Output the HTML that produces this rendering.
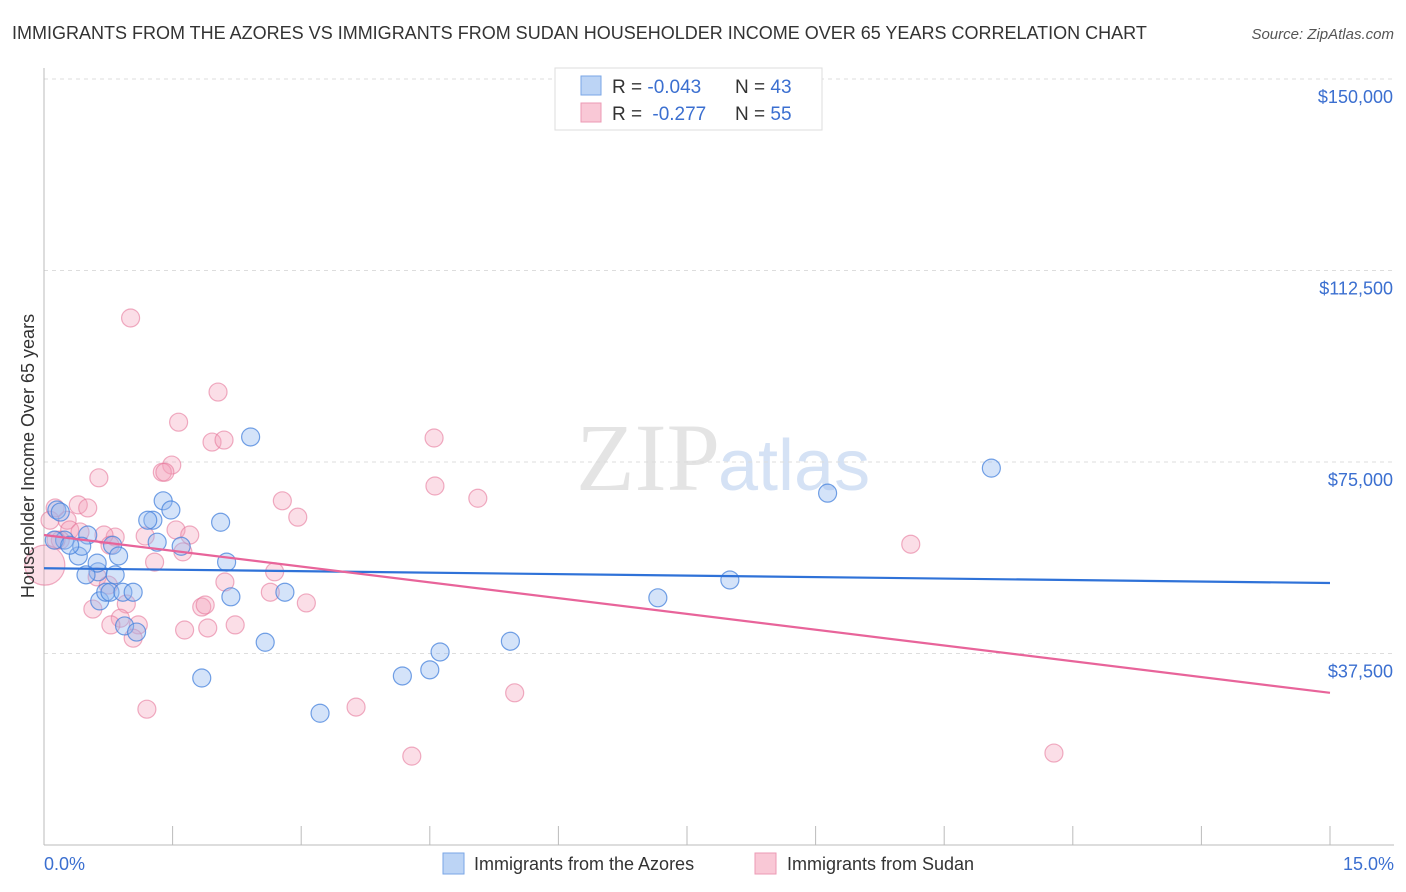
<!DOCTYPE html>
<html><head><meta charset="utf-8"><style>
body{margin:0;background:#fff;font-family:"Liberation Sans",sans-serif;}
svg{display:block}
</style></head><body>
<svg id="c" width="1406" height="892" xmlns="http://www.w3.org/2000/svg">
<text x="12" y="39" font-size="18" fill="#333">IMMIGRANTS FROM THE AZORES VS IMMIGRANTS FROM SUDAN HOUSEHOLDER INCOME OVER 65 YEARS CORRELATION CHART</text>
<text x="1394" y="39" font-size="15" fill="#555" font-style="italic" text-anchor="end">Source: ZipAtlas.com</text>
<text x="720" y="490" font-size="96" fill="#e4e4e4" text-anchor="end" font-family="Liberation Serif,serif">ZIP</text>
<text x="718" y="490" font-size="72" fill="#d5e2f5">atlas</text>
<g id="grid"></g>
<g id="axes"></g>
<g id="pts"></g>
<g id="trend"></g>
<text transform="translate(34,456) rotate(-90)" font-size="18" fill="#333" text-anchor="middle">Householder Income Over 65 years</text>
<text x="44" y="870" font-size="18" fill="#3b6fd0">0.0%</text>
<text x="1394" y="870" font-size="18" fill="#3b6fd0" text-anchor="end">15.0%</text>
<g>
<rect x="555" y="68" width="267" height="62" fill="#fff" stroke="#ddd"/>
<rect x="581" y="76" width="20" height="19" fill="#bcd4f5" stroke="#7aa6e6"/>
<rect x="581" y="103" width="20" height="19" fill="#f9c8d6" stroke="#ec9ab4"/>
<text x="612" y="93" font-size="19" fill="#333">R = <tspan fill="#3b6fd0">-0.043</tspan></text>
<text x="735" y="93" font-size="19" fill="#333">N = <tspan fill="#3b6fd0">43</tspan></text>
<text x="612" y="120" font-size="19" fill="#333">R = <tspan fill="#3b6fd0" dx="5">-0.277</tspan></text>
<text x="735" y="120" font-size="19" fill="#333">N = <tspan fill="#3b6fd0">55</tspan></text>
</g>
<g>
<rect x="443" y="853" width="21" height="21" fill="#bcd4f5" stroke="#7aa6e6"/>
<text x="474" y="870" font-size="18" fill="#333">Immigrants from the Azores</text>
<rect x="755" y="853" width="21" height="21" fill="#f9c8d6" stroke="#ec9ab4"/>
<text x="787" y="870" font-size="18" fill="#333">Immigrants from Sudan</text>
</g>
</svg>
<script>
const yTicks=[37500,75000,112500,150000];
const yTickLabels=["$37,500","$75,000","$112,500","$150,000"];
const azoresX=[.15,.19,.24,.63,.51,.80,.62,.40,.44,.49,.83,.65,.72,.77,.92,1.04,.94,1.08,.87,1.27,1.21,1.39,1.48,1.32,1.60,2.06,2.13,2.18,2.41,1.84,2.58,2.81,3.22,4.18,4.50,4.62,5.44,7.16,8.00,9.14,11.05,.12,.30];
const azoresY=[65600,65200,59700,53500,60700,58700,55200,56600,58500,52900,52900,47800,49500,49500,49500,49500,42900,41700,56600,63600,63600,67400,65600,59300,58500,63200,55400,48600,79900,32700,39700,49500,25800,33100,34300,37800,39900,48400,51900,68900,73800,59700,58700];
const sudanX=[1.01,2.03,1.57,1.96,2.10,1.49,1.38,1.41,.64,.40,.51,.27,.30,.19,.14,.01,.07,.83,.70,1.18,1.54,1.70,1.62,1.29,2.11,1.84,1.88,1.64,1.91,2.23,2.69,2.64,3.06,2.78,2.96,.96,.89,.78,1.10,1.04,.57,.62,1.20,.75,.77,4.55,4.56,5.06,3.64,4.29,5.49,10.11,11.78,.13,.42];
const sudanY=[103200,88700,82800,78900,79300,74400,73000,73000,71900,66600,66000,63600,61700,59700,59700,54800,63600,60300,60700,60500,61700,60700,57400,55400,51500,46600,47000,42100,42500,43100,53500,49500,47400,67400,64200,47200,44400,43100,43100,40500,46200,52500,26600,50900,58700,79700,70300,67900,27000,17400,29800,58900,18000,66000,61300];
const azoresTrend=[54200,51300];
const sudanTrend=[60700,29800];
const X=p=>44+p/15*1286;
const Y=v=>845-v/150000*766;
const NS="http://www.w3.org/2000/svg";
function mk(t,a,parent){const e=document.createElementNS(NS,t);for(const k in a)e.setAttribute(k,a[k]);parent.appendChild(e);return e;}
const grid=document.getElementById('grid'),axes=document.getElementById('axes'),pts=document.getElementById('pts'),tr=document.getElementById('trend');
yTicks.forEach((v,i)=>{
 const l=mk('line',{x1:44,x2:1394,y1:Y(v),y2:Y(v),stroke:'#ddd','stroke-dasharray':'4,4'},grid);
 
 
 const t=mk('text',{x:1393,y:Y(v)+24,'font-size':18,fill:'#3b6fd0','text-anchor':'end'},grid);
 t.textContent=yTickLabels[i];
 
 
});
const ax=mk('line',{x1:44,x2:44,y1:68,y2:845,stroke:'#bbb'},axes);


const bx=mk('line',{x1:44,x2:1394,y1:845,y2:845,stroke:'#bbb'},axes);


for(let i=0;i<=10;i++){
 const t=mk('line',{x1:X(i*1.5),x2:X(i*1.5),y1:826,y2:845,stroke:'#bbb'},axes);
 
 
}
sudanX.forEach((x,i)=>{
 const c=mk('circle',{cx:X(x),cy:Y(sudanY[i]),r:(i===15?20:9),fill:'rgba(244,160,185,0.35)',stroke:'rgba(230,120,155,0.6)','stroke-width':1.2},pts);
 
 
});
azoresX.forEach((x,i)=>{
 const c=mk('circle',{cx:X(x),cy:Y(azoresY[i]),r:9,fill:'rgba(147,186,240,0.4)',stroke:'rgba(70,130,220,0.75)','stroke-width':1.2},pts);
 
 
});
const tb=mk('line',{x1:X(0),x2:X(15),y1:Y(azoresTrend[0]),y2:Y(azoresTrend[1]),stroke:'#2f72d8','stroke-width':2.2},tr);


const tp=mk('line',{x1:X(0),x2:X(15),y1:Y(sudanTrend[0]),y2:Y(sudanTrend[1]),stroke:'#e8649a','stroke-width':2.2},tr);


</script>
</body></html>
